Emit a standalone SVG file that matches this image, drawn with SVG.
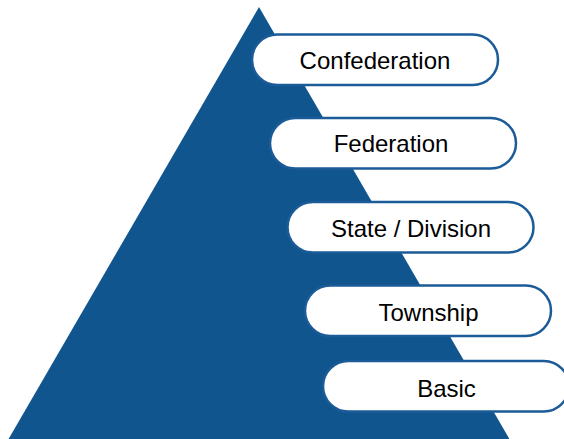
<svg xmlns="http://www.w3.org/2000/svg" width="564" height="439" viewBox="0 0 564 439">
<style>
.pill{fill:#ffffff;stroke:#1b5b98;stroke-width:2.5}
.lbl{font-family:"Liberation Sans",Arial,sans-serif;font-size:24px;fill:#000000;text-anchor:middle}
</style>
<rect width="564" height="439" fill="#ffffff"/>
<g id="pyramid"><polygon points="259,7 8,440 510,440" fill="#11558f"/></g>
<g id="connectors"></g>
<g id="confederation"><rect class="pill" x="252" y="34.5" width="246" height="50.5" rx="25.25"/><text class="lbl" x="375" y="68.5">Confederation</text></g>
<g id="federation"><rect class="pill" x="270" y="118" width="246" height="50.5" rx="25.25"/><text class="lbl" x="391" y="152">Federation</text></g>
<g id="state"><rect class="pill" x="287.5" y="202" width="246" height="50.5" rx="25.25"/><text class="lbl" x="411" y="236.5">State / Division</text></g>
<g id="township"><rect class="pill" x="305" y="285.5" width="246" height="50.5" rx="25.25"/><text class="lbl" x="428.5" y="321">Township</text></g>
<g id="basic"><rect class="pill" x="323" y="361" width="246" height="50.5" rx="25.25"/><text class="lbl" x="446.5" y="396.5">Basic</text></g>
</svg>
